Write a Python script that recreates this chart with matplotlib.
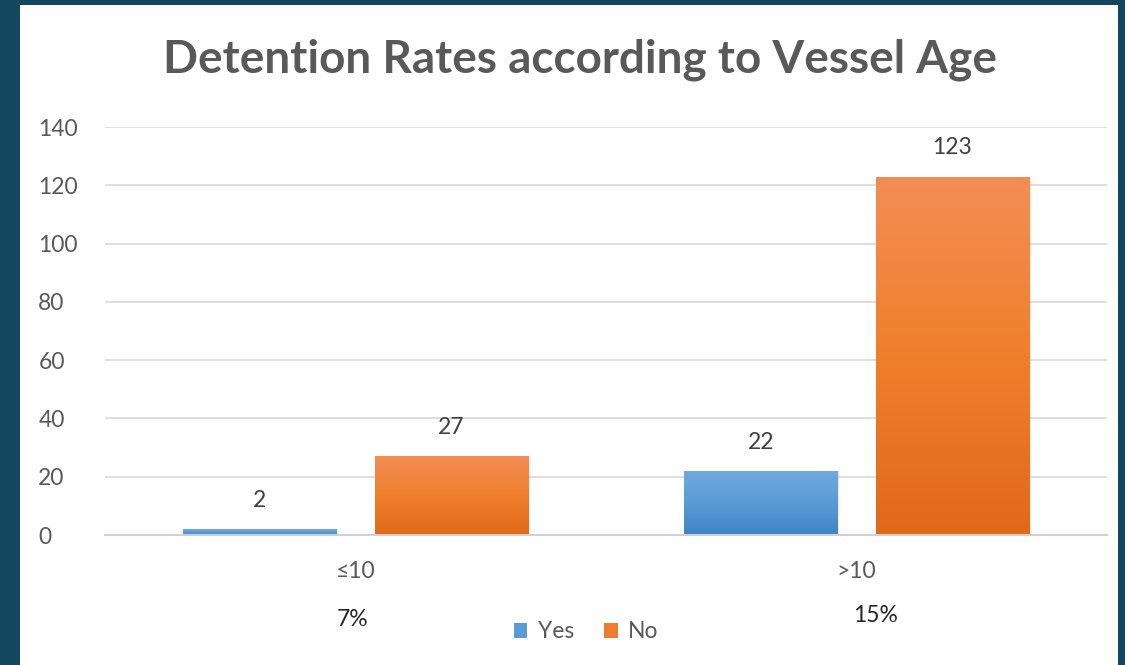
import matplotlib
matplotlib.use('Agg')
import matplotlib.pyplot as plt
import numpy as np
from matplotlib.patches import Rectangle
from matplotlib.colors import LinearSegmentedColormap

# Data
categories = ['≤10', '>10']
yes_counts = [2, 22]
no_counts = [27, 123]
percent_labels = ['7%', '15%']
series_names = ['Yes', 'No']

TITLE = 'Detention Rates according to Vessel Age'
FONT = ['Lato', 'DejaVu Sans']
LABEL_SIZE = 16.5

plt.rcParams['font.family'] = FONT

fig = plt.figure(figsize=(11.25, 6.65), dpi=100)
fig.patch.set_facecolor('#13465f')
# white chart panel on the teal slide background
fig.patches.append(Rectangle((20 / 1125, 0), 1098 / 1125, 660 / 665,
                             transform=fig.transFigure, facecolor='white',
                             edgecolor='none', zorder=-10))

ax = fig.add_axes([105 / 1125, 1 - 535 / 665, 1002 / 1125, 408 / 665])
ax.set_facecolor('none')

x = np.arange(len(categories))
width = 0.306
offset = 0.191

bars_yes = ax.bar(x - offset, yes_counts, width, color='#5b9bd5', label=series_names[0], zorder=2)
bars_no = ax.bar(x + offset, no_counts, width, color='#ed7d31', label=series_names[1], zorder=2)

# vertical gradient fill for the bars (Office style)
grad_yes = LinearSegmentedColormap.from_list('gy', ['#3e84c6', '#5b9bd5', '#72a9de'])
grad_no = LinearSegmentedColormap.from_list('gn', ['#e0691a', '#f07f2c', '#f28e55'])
for bars, cmap in ((bars_yes, grad_yes), (bars_no, grad_no)):
    for b in bars:
        bx, by = b.get_x(), b.get_y()
        bw, bh = b.get_width(), b.get_height()
        grad = np.linspace(0, 1, 256).reshape(-1, 1)
        im = ax.imshow(grad, cmap=cmap, origin='lower', aspect='auto',
                       extent=[bx, bx + bw, by, by + bh], zorder=2.5)
        im.set_clip_path(b)
        # soft shadow
        ax.add_patch(Rectangle((bx + 0.004, by), bw, bh, facecolor='#000000',
                               alpha=0.08, edgecolor='none', zorder=1.8))

for bars in (bars_yes, bars_no):
    for b in bars:
        ax.annotate(f'{int(b.get_height())}', (b.get_x() + b.get_width() / 2, b.get_height()),
                    xytext=(0, 13), textcoords='offset points', ha='center', va='bottom',
                    fontsize=LABEL_SIZE, color='#404040')

ax.set_xlim(-0.5, 1.5)
ax.set_ylim(0, 140)
ax.set_yticks(range(0, 141, 20))
ax.set_xticks(x)
ax.set_xticklabels(categories)
ax.tick_params(axis='y', length=0, pad=48, labelsize=LABEL_SIZE, labelcolor='#595959')
ax.tick_params(axis='x', length=0, pad=19, labelsize=LABEL_SIZE, labelcolor='#595959')
for lbl in ax.get_yticklabels():
    lbl.set_horizontalalignment('left')
ax.yaxis.grid(True, color='#d9d9d9', linewidth=1.2, zorder=0)
ax.set_axisbelow(True)
for s in ('top', 'right', 'left'):
    ax.spines[s].set_visible(False)
ax.spines['bottom'].set_color('#d0d0d0')
ax.spines['bottom'].set_linewidth(1.5)

fig.text(580 / 1125, 1 - 60 / 665, TITLE, ha='center', va='center',
         fontsize=33, fontweight='bold', color='#595959')

# percentage notes under each category
fig.text(353 / 1125, 1 - 620 / 665, percent_labels[0], ha='center', va='center',
         fontsize=LABEL_SIZE, color='#262626')
fig.text(876 / 1125, 1 - 615 / 665, percent_labels[1], ha='center', va='center',
         fontsize=LABEL_SIZE, color='#262626')

leg = ax.legend(loc='center', bbox_to_anchor=(586 / 1125, 1 - 632 / 665),
                bbox_transform=fig.transFigure, ncol=2, frameon=False,
                fontsize=LABEL_SIZE, handlelength=0.6, handleheight=0.6,
                handletextpad=0.45, columnspacing=1.3)
for t in leg.get_texts():
    t.set_color('#595959')

fig.savefig('out.png', dpi=100, facecolor=fig.get_facecolor())
